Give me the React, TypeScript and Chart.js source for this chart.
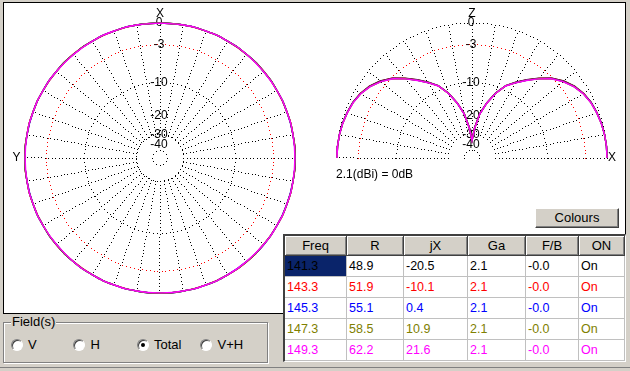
import React, { useEffect, useRef } from "react";
import { Chart, registerables } from "chart.js";

Chart.register(...registerables);

const FONT = "'Liberation Sans', Arial, sans-serif";

// ---- Table data ----
const HEADERS = ["Freq", "R", "jX", "Ga", "F/B", "ON"];
const FREQ = ["141.3", "143.3", "145.3", "147.3", "149.3"];
const RES = ["48.9", "51.9", "55.1", "58.5", "62.2"];
const REACT = ["-20.5", "-10.1", "0.4", "10.9", "21.6"];
const GAIN = ["2.1", "2.1", "2.1", "2.1", "2.1"];
const FB = ["-0.0", "-0.0", "-0.0", "-0.0", "-0.0"];
const ONOFF = ["On", "On", "On", "On", "On"];
const SERIES_COLORS = ["#000000", "#ff0000", "#0000ff", "#808000", "#ff00ff"];

// ---- Polar grid (dB, ARRL log scale) ----
const RING_DB = [0, -3, -10, -30, -49];
const LABEL_DB = [0, -3, -10, -20, -30, -40];
const LABEL_TEXT = ["0", "-3", "-10", "-20", "-30", "-40"];
const GAIN_REF_TEXT = "2.1(dBi) = 0dB";
const FIELD_OPTIONS = ["V", "H", "Total", "V+H"];
const FIELD_SELECTED = "Total";

// ---- Azimuth pattern (horizontal plane), degrees / dB ----
const AZ_ANGLES = [0, 10, 20, 30, 40, 50, 60, 70, 80, 90, 100, 110, 120, 130, 140, 150, 160, 170, 180,
  190, 200, 210, 220, 230, 240, 250, 260, 270, 280, 290, 300, 310, 320, 330, 340, 350, 360];
const AZ_DB_1413 = [0, 0, 0, 0, 0, 0, 0, 0, 0, 0, 0, 0, 0, 0, 0, 0, 0, 0, 0, 0, 0, 0, 0, 0, 0, 0, 0, 0, 0, 0, 0, 0, 0, 0, 0, 0, 0];
const AZ_DB_1433 = [0.03, 0, 0, 0, 0.03, 0, 0, 0, 0, 0, 0, 0, 0, 0.03, 0, 0, 0, 0, 0.03, 0, 0, 0, 0.03, 0, 0, 0, 0, 0, 0, 0, 0, 0.03, 0, 0, 0, 0, 0.03];
const AZ_DB_1453 = [0, 0, 0, 0, 0, 0, 0, 0, 0, 0.03, 0, 0, 0, 0, 0, 0, 0, 0, 0, 0, 0, 0, 0, 0.03, 0, 0, 0, 0.03, 0, 0, 0, 0, 0, 0, 0, 0, 0];
const AZ_DB_1473 = [0, 0, 0, 0, 0, 0, 0, 0, 0, 0, 0, 0, 0, 0, 0, 0, 0, 0, 0, 0, 0, 0, 0, 0, 0, 0, 0, 0, 0, 0, 0, 0, 0, 0, 0, 0, 0];
const AZ_DB_1493 = [-0.02, 0, 0, 0, -0.02, 0, 0, 0, 0, -0.02, 0, 0, 0, -0.02, 0, 0, 0, 0, -0.02, 0, 0, 0, -0.02, 0, 0, 0, 0, -0.02, 0, 0, 0, -0.02, 0, 0, 0, 0, -0.02];

// ---- Elevation pattern (vertical plane), degrees from +X / dB ----
const EL_ANGLES = [0, 5, 10, 15, 20, 25, 30, 35, 40, 45, 50, 55, 60, 65, 70, 75, 80, 85, 90,
  95, 100, 105, 110, 115, 120, 125, 130, 135, 140, 145, 150, 155, 160, 165, 170, 175, 180];
const EL_DB_1413 = [0, 0, -0.04, -0.12, -0.26, -0.45, -0.78, -1.3, -2.05, -3.05, -4.45, -5.95, -7.45, -9.0, -11.5, -14.8, -18.8, -25.5, -35,
  -25.5, -18.8, -14.8, -11.5, -9.0, -7.45, -5.95, -4.45, -3.05, -2.05, -1.3, -0.78, -0.45, -0.26, -0.12, -0.04, 0, 0];
const EL_DB_1433 = [0, 0, -0.05, -0.13, -0.28, -0.47, -0.8, -1.35, -2.1, -3.1, -4.5, -6.0, -7.5, -9.05, -11.55, -14.85, -18.9, -25.7, -35,
  -25.7, -18.9, -14.85, -11.55, -9.05, -7.5, -6.0, -4.5, -3.1, -2.1, -1.35, -0.8, -0.47, -0.28, -0.13, -0.05, 0, 0];
const EL_DB_1453 = [0, 0, -0.05, -0.14, -0.29, -0.48, -0.82, -1.37, -2.15, -3.15, -4.55, -6.05, -7.55, -9.05, -11.55, -14.85, -18.9, -25.8, -35,
  -25.8, -18.9, -14.85, -11.55, -9.05, -7.55, -6.05, -4.55, -3.15, -2.15, -1.37, -0.82, -0.48, -0.29, -0.14, -0.05, 0, 0];
const EL_DB_1473 = [0, 0, -0.05, -0.15, -0.3, -0.49, -0.84, -1.39, -2.18, -3.18, -4.58, -6.08, -7.58, -9.08, -11.58, -14.88, -18.95, -25.9, -35,
  -25.9, -18.95, -14.88, -11.58, -9.08, -7.58, -6.08, -4.58, -3.18, -2.18, -1.39, -0.84, -0.49, -0.3, -0.15, -0.05, 0, 0];
const EL_DB_1493 = [0, 0, -0.05, -0.15, -0.3, -0.5, -0.85, -1.4, -2.2, -3.2, -4.6, -6.1, -7.6, -9.1, -11.6, -14.9, -19, -26, -35,
  -26, -19, -14.9, -11.6, -9.1, -7.6, -6.1, -4.6, -3.2, -2.2, -1.4, -0.85, -0.5, -0.3, -0.15, -0.05, 0, 0];

const AZ_SERIES = [AZ_DB_1413, AZ_DB_1433, AZ_DB_1453, AZ_DB_1473, AZ_DB_1493];
const EL_SERIES = [EL_DB_1413, EL_DB_1433, EL_DB_1453, EL_DB_1473, EL_DB_1493];

// ---- layout ----
const UNIT_PX = 135;
const CANVAS_SIZE = 300;
const COL_WIDTHS = [62, 57, 64, 58, 53, 46];
const RING_DOT_STEP = 4;
const SPOKE_DOT_STEP = 3.5;

type Pt = { x: number; y: number };
const rho = (db: number) => Math.pow(0.89, -db / 2);
const toRad = (d: number) => (d * Math.PI) / 180;

function azPoints(dbs: number[]): Pt[] {
  return AZ_ANGLES.map((a, i) => {
    const r = rho(dbs[i]);
    return { x: -r * Math.sin(toRad(a)), y: r * Math.cos(toRad(a)) };
  });
}
function elPoints(dbs: number[]): Pt[] {
  return EL_ANGLES.map((a, i) => {
    const r = rho(dbs[i]);
    return { x: r * Math.cos(toRad(a)), y: r * Math.sin(toRad(a)) };
  });
}

type Decorate = (ctx: CanvasRenderingContext2D, cx: number, cy: number, u: number) => void;

function makeGrid(half: boolean, decorate: Decorate) {
  return {
    id: "polarGrid",
    beforeDatasetsDraw(chart: any) {
      const ctx: CanvasRenderingContext2D = chart.ctx;
      const xs = chart.scales.x;
      const ys = chart.scales.y;
      const cx = Math.round(xs.getPixelForValue(0));
      const cy = Math.round(ys.getPixelForValue(0));
      const u = xs.getPixelForValue(1) - xs.getPixelForValue(0);
      const dot = (dx: number, dy: number) => ctx.fillRect(Math.round(cx + dx - 0.5), Math.round(cy + dy - 0.5), 1, 1);
      ctx.save();
      // spokes
      ctx.fillStyle = "#000000";
      const inner = rho(-30) * u;
      const maxA = half ? 180 : 350;
      for (let a = 0; a <= maxA; a += 10) {
        const t = toRad(a);
        for (let r = inner; r <= u + 0.01; r += SPOKE_DOT_STEP) dot(r * Math.cos(t), -r * Math.sin(t));
      }
      // rings
      RING_DB.forEach((db) => {
        ctx.fillStyle = db === -3 ? "#ff0000" : "#000000";
        const r = rho(db) * u;
        const span = half ? Math.PI : 2 * Math.PI;
        const n = Math.max(8, Math.round((span * r) / RING_DOT_STEP));
        for (let k = 0; k <= (half ? n : n - 1); k++) {
          const t = (k / n) * span;
          dot(r * Math.cos(t), -r * Math.sin(t));
        }
      });
      ctx.fillStyle = "#000000";
      ctx.font = `12px ${FONT}`;
      ctx.textAlign = "center";
      ctx.textBaseline = "middle";
      LABEL_DB.forEach((db, i) => ctx.fillText(LABEL_TEXT[i], cx - 1, cy - rho(db) * u));
      decorate(ctx, cx, cy, u);
      ctx.restore();
    },
  };
}

function PolarCanvas(props: {
  left: number;
  top: number;
  half: boolean;
  series: number[][];
  mapper: (d: number[]) => Pt[];
  tension: number;
  decorate: Decorate;
}) {
  const ref = useRef<HTMLCanvasElement>(null);
  useEffect(() => {
    const W = CANVAS_SIZE / 2 / UNIT_PX;
    const n = props.series.length;
    const chart = new Chart(ref.current as HTMLCanvasElement, {
      type: "scatter",
      data: {
        datasets: props.series.map((dbs, i) => ({
          data: props.mapper(dbs),
          showLine: true,
          borderColor: SERIES_COLORS[i],
          backgroundColor: SERIES_COLORS[i],
          borderWidth: 1.4,
          pointRadius: 0,
          fill: false,
          tension: props.tension,
          order: n - 1 - i,
        })),
      },
      options: {
        animation: false,
        responsive: false,
        maintainAspectRatio: false,
        layout: { padding: 0 },
        events: [],
        plugins: { legend: { display: false }, tooltip: { enabled: false } },
        scales: {
          x: { type: "linear", min: -W, max: W, display: false },
          y: { type: "linear", min: -W, max: W, display: false },
        },
      },
      plugins: [makeGrid(props.half, props.decorate)],
    } as any);
    return () => chart.destroy();
  }, []);
  return (
    <canvas
      ref={ref}
      width={CANVAS_SIZE}
      height={CANVAS_SIZE}
      style={{ position: "absolute", left: props.left, top: props.top, width: CANVAS_SIZE, height: CANVAS_SIZE }}
    />
  );
}

const decorateAz: Decorate = (ctx, cx, cy, u) => {
  ctx.fillText("X", cx, cy - 1.07 * u);
  ctx.fillText("Y", cx - 1.063 * u, cy);
};
const decorateEl: Decorate = (ctx, cx, cy, u) => {
  ctx.fillText("Z", cx, cy - 1.072 * u);
  ctx.fillText("X", cx + 1.037 * u, cy);
  ctx.textAlign = "left";
  ctx.fillText(GAIN_REF_TEXT, cx - 1.007 * u, cy + 17);
};

function Table() {
  const rows = FREQ.map((f, i) => [f, RES[i], REACT[i], GAIN[i], FB[i], ONOFF[i]]);
  return (
    <div
      style={{
        position: "absolute",
        left: 283,
        top: 234,
        width: 343,
        height: 128,
        boxSizing: "border-box",
        borderStyle: "solid",
        borderWidth: "2px 1px 1px 2px",
        borderColor: "#404040 #ffffff #ffffff #404040",
        background: "#ffffff",
        overflow: "hidden",
      }}
    >
      <div style={{ display: "flex", height: 20 }}>
        {HEADERS.map((h, c) => (
          <div
            key={h}
            style={{
              width: COL_WIDTHS[c],
              height: 20,
              boxSizing: "border-box",
              background: "#d4d0c8",
              borderRight: "1px solid #404040",
              borderBottom: "1px solid #404040",
              boxShadow: "inset 1px 1px 0 #ffffff, inset -1px -1px 0 #808080",
              textAlign: "center",
              lineHeight: "19px",
              fontSize: 13,
            }}
          >
            {h}
          </div>
        ))}
      </div>
      {rows.map((r, ri) => (
        <div key={ri} style={{ display: "flex", height: 21 }}>
          {r.map((v, c) => (
            <div
              key={c}
              style={{
                width: COL_WIDTHS[c],
                height: 21,
                boxSizing: "border-box",
                borderRight: "1px solid #c0c0c0",
                borderBottom: "1px solid #c0c0c0",
                paddingLeft: 2,
                lineHeight: "20px",
                fontSize: 12.5,
                color: SERIES_COLORS[ri],
                background: ri === 0 && c === 0 ? "#0a246a" : "#ffffff",
              }}
            >
              {v}
            </div>
          ))}
        </div>
      ))}
    </div>
  );
}

function FieldGroup() {
  const centers = [16.5, 79, 142.5, 206];
  return (
    <>
      <div
        style={{
          position: "absolute",
          left: 3,
          top: 322,
          width: 263,
          height: 39,
          border: "1px solid #808080",
          boxShadow: "inset 1px 1px 0 #ffffff, 1px 1px 0 #ffffff",
        }}
      />
      <div
        style={{
          position: "absolute",
          left: 11,
          top: 315,
          lineHeight: "14px",
          fontSize: 13,
          padding: "0 1px",
          background: "#d4d0c8",
          color: "#000000",
        }}
      >
        Field(s)
      </div>
      {FIELD_OPTIONS.map((o, i) => (
        <React.Fragment key={o}>
          <div
            style={{
              position: "absolute",
              left: centers[i] - 6,
              top: 339,
              width: 12,
              height: 12,
              boxSizing: "border-box",
              borderRadius: "50%",
              background: "#ffffff",
              borderStyle: "solid",
              borderWidth: 1,
              borderColor: "#808080 #ffffff #ffffff #808080",
              boxShadow: "inset 1px 1px 0 #404040",
            }}
          >
            {o === FIELD_SELECTED && (
              <div
                style={{
                  position: "absolute",
                  left: 3,
                  top: 3,
                  width: 4,
                  height: 4,
                  borderRadius: "50%",
                  background: "#000000",
                }}
              />
            )}
          </div>
          <div style={{ position: "absolute", left: centers[i] + 11.5, top: 338, lineHeight: "14px", fontSize: 13 }}>{o}</div>
        </React.Fragment>
      ))}
    </>
  );
}

export default function App() {
  return (
    <div
      style={{
        position: "fixed",
        left: 0,
        top: 0,
        width: 630,
        height: 371,
        background: "#d4d0c8",
        fontFamily: FONT,
        fontSize: 13,
        overflow: "hidden",
        color: "#000000",
      }}
    >
      <div
        style={{
          position: "absolute",
          left: 3,
          top: 2,
          width: 623,
          height: 312,
          boxSizing: "border-box",
          border: "1px solid #000000",
          background: "#ffffff",
        }}
      />
      <PolarCanvas left={10} top={8} half={false} series={AZ_SERIES} mapper={azPoints} tension={0.5} decorate={decorateAz} />
      <PolarCanvas left={322} top={8} half={true} series={EL_SERIES} mapper={elPoints} tension={0} decorate={decorateEl} />
      <div
        style={{
          position: "absolute",
          left: 535,
          top: 208,
          width: 84,
          height: 20,
          boxSizing: "border-box",
          borderStyle: "solid",
          borderWidth: 1,
          borderColor: "#ffffff #404040 #404040 #ffffff",
          boxShadow: "inset -1px -1px 0 #808080",
          background: "#d4d0c8",
          textAlign: "center",
          lineHeight: "18px",
          fontSize: 13,
        }}
      >
        Colours
      </div>
      <Table />
      <FieldGroup />
      <div style={{ position: "absolute", left: 0, top: 367, width: 630, height: 1, background: "#808080" }} />
    </div>
  );
}
